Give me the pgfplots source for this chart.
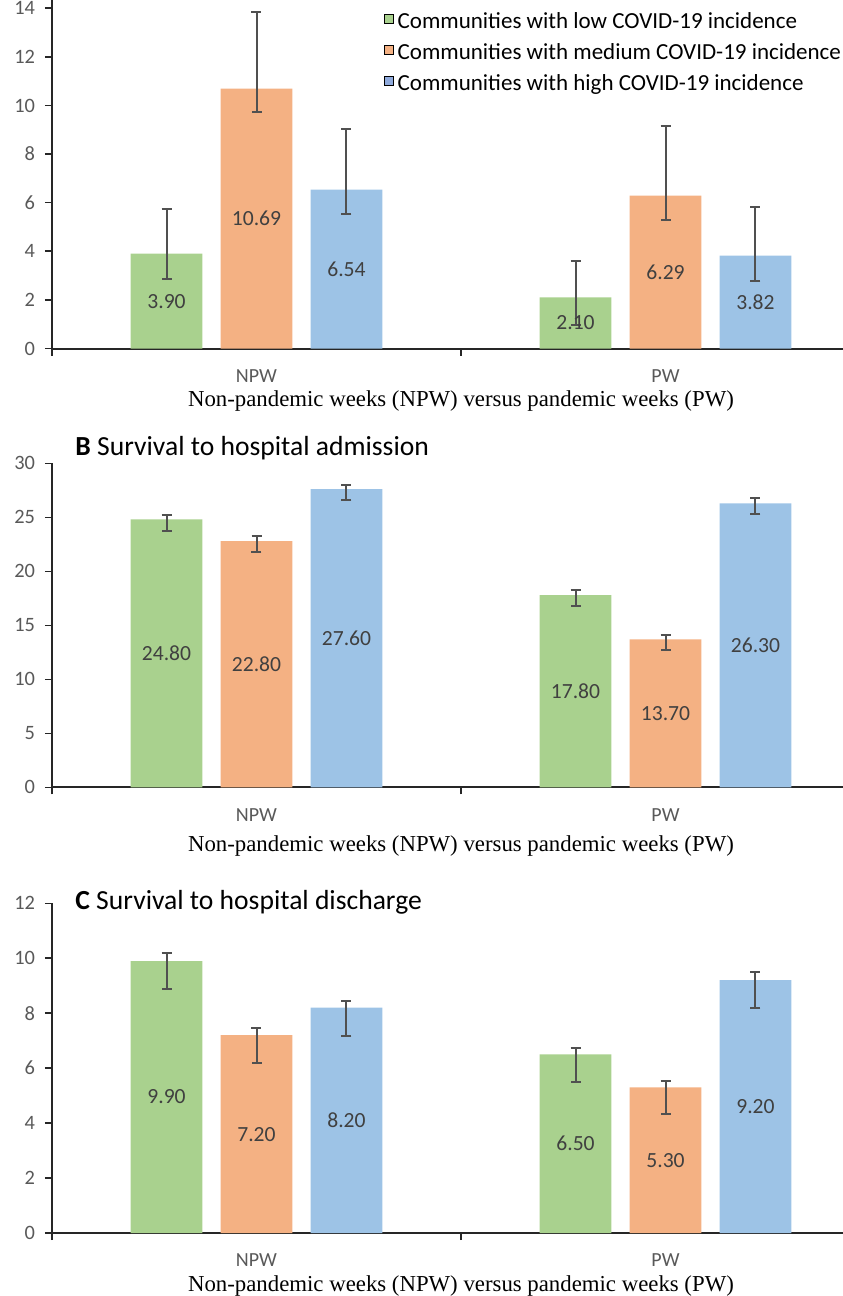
\documentclass[border=0pt]{standalone}
\usepackage{pgfplots}
\usepackage{pgfplotstable}
\pgfplotsset{compat=1.18}
\usepackage{fontspec}
\setmainfont{Carlito}
\newfontfamily\timesf{Liberation Serif}
\definecolor{cg}{HTML}{A9D18E}
\definecolor{co}{HTML}{F4B183}
\definecolor{cb}{HTML}{9DC3E6}
\definecolor{cbl}{HTML}{8FAADC}
\definecolor{tk}{HTML}{595959}
\definecolor{eb}{HTML}{505050}
\definecolor{lab}{HTML}{404040}

% panel A
\pgfplotstableread{
x y ep em
-0.22 3.90 1.84 1.03
0.78 2.10 1.51 1.13
}\Alow
\pgfplotstableread{
x y ep em
0 10.69 3.16 0.97
1 6.29 2.88 1.00
}\Amed
\pgfplotstableread{
x y ep em
0.22 6.54 2.49 0.99
1.22 3.82 1.99 1.03
}\Ahigh
% panel B
\pgfplotstableread{
x y ep em
-0.22 24.80 0.44 1.04
0.78 17.80 0.44 1.01
}\Blow
\pgfplotstableread{
x y ep em
0 22.80 0.44 1.01
1 13.70 0.43 1.01
}\Bmed
\pgfplotstableread{
x y ep em
0.22 27.60 0.42 1.03
1.22 26.30 0.46 0.99
}\Bhigh
% panel C
\pgfplotstableread{
x y ep em
-0.22 9.90 0.29 1.02
0.78 6.50 0.24 1.02
}\Clow
\pgfplotstableread{
x y ep em
0 7.20 0.25 1.03
1 5.30 0.22 0.97
}\Cmed
\pgfplotstableread{
x y ep em
0.22 8.20 0.25 1.02
1.22 9.20 0.29 1.02
}\Chigh

\pgfplotsset{
  panel/.style={
    scale only axis, width=409pt, xmin=-0.5, xmax=1.5, ymin=0,
    axis lines*=left, clip=false,
    axis line style={black!85, line width=0.8pt},
    x axis line style={line width=1pt},
    tick align=outside, major tick length=3.5pt,
    tick style={black!85, line width=0.8pt},
    xtick={-0.5,0.5,1.5}, xticklabels={{},{},{}},
    extra x ticks={0,1}, extra x tick labels={NPW,PW},
    extra x tick style={major tick length=0pt},
    xticklabel style={font=\fontsize{10}{12}\selectfont, color=tk, yshift=-7pt},
    yticklabel style={font=\fontsize{10.2}{12}\selectfont, color=tk, xshift=-1.5pt},
    /pgf/number format/assume math mode=true,
    xlabel={Non-pandemic weeks (NPW) versus pandemic weeks (PW)},
    xlabel style={font=\timesf\fontsize{11.4}{13}\selectfont},
  },
  bars/.style={ybar, bar width=0.175, bar shift=0pt, draw=none, fill=#1,
    error bars/y dir=both, error bars/y explicit,
    error bars/error bar style={line width=1pt, color=eb},
    error bars/error mark options={rotate=90, mark size=2.5pt, line width=1pt, color=eb}},
  vals/.style={draw=none, mark=none, nodes near coords={\pgfmathprintnumber[fixed,fixed zerofill,precision=2]{\pgfplotspointmeta}},
    point meta=explicit,
    every node near coord/.style={anchor=center, font=\fontsize{10.8}{12}\selectfont, color=lab}},
}

\begin{document}
\begin{tikzpicture}
% Panel A
\begin{axis}[panel, at={(26pt,-174.25pt)}, anchor=south west, height=174.25pt, ymax=14.34,
  ytick={0,2,...,14}, xlabel style={yshift=6pt},
  legend style={at={(0.405,0.966)}, anchor=north west, draw=none, fill=none,
    font=\fontsize{11.5}{13}\selectfont, inner sep=0pt,
    nodes={inner sep=0pt, text height=8pt, text depth=2.5pt},
    row sep=5pt, /tikz/column sep=2pt},
  legend cell align=left,
  legend image code/.code={\fill[#1] (0pt,-0.3pt) rectangle (4.6pt,4.3pt);},
]
\addplot[forget plot, bars=cg] table[x=x, y=y, y error plus=ep, y error minus=em] {\Alow};
\addplot[forget plot, bars=co] table[x=x, y=y, y error plus=ep, y error minus=em] {\Amed};
\addplot[forget plot, bars=cb] table[x=x, y=y, y error plus=ep, y error minus=em] {\Ahigh};
\addplot[forget plot, vals] table[x=x, y expr=\thisrow{y}/2, meta=y] {\Alow};
\addplot[forget plot, vals] table[x=x, y expr=\thisrow{y}/2, meta=y] {\Amed};
\addplot[forget plot, vals] table[x=x, y expr=\thisrow{y}/2, meta=y] {\Ahigh};
\addlegendimage{fill=cg}
\addlegendentry{Communities with low COVID-19 incidence}
\addlegendimage{fill=co}
\addlegendentry{Communities with medium COVID-19 incidence}
\addlegendimage{fill=cbl}
\addlegendentry{Communities with high COVID-19 incidence}
\end{axis}
% Panel B
\begin{axis}[panel, at={(26pt,-393.65pt)}, anchor=south west, height=162pt, ymax=30,
  ytick={0,5,...,30}, xlabel style={yshift=3pt}]
\addplot[bars=cg] table[x=x, y=y, y error plus=ep, y error minus=em] {\Blow};
\addplot[bars=co] table[x=x, y=y, y error plus=ep, y error minus=em] {\Bmed};
\addplot[bars=cb] table[x=x, y=y, y error plus=ep, y error minus=em] {\Bhigh};
\addplot[vals] table[x=x, y expr=\thisrow{y}/2, meta=y] {\Blow};
\addplot[vals] table[x=x, y expr=\thisrow{y}/2, meta=y] {\Bmed};
\addplot[vals] table[x=x, y expr=\thisrow{y}/2, meta=y] {\Bhigh};
\end{axis}
% Panel C
\begin{axis}[panel, at={(26pt,-616.5pt)}, anchor=south west, height=164.85pt, ymax=12,
  ytick={0,2,...,12}, xlabel style={yshift=6pt}]
\addplot[bars=cg] table[x=x, y=y, y error plus=ep, y error minus=em] {\Clow};
\addplot[bars=co] table[x=x, y=y, y error plus=ep, y error minus=em] {\Cmed};
\addplot[bars=cb] table[x=x, y=y, y error plus=ep, y error minus=em] {\Chigh};
\addplot[vals] table[x=x, y expr=\thisrow{y}/2, meta=y] {\Clow};
\addplot[vals] table[x=x, y expr=\thisrow{y}/2, meta=y] {\Cmed};
\addplot[vals] table[x=x, y expr=\thisrow{y}/2, meta=y] {\Chigh};
\end{axis}
\node[anchor=west, inner sep=0pt, font=\fontsize{13.8}{16}\selectfont] at (37.5pt,-224pt) {\textbf{B} Survival to hospital admission};
\node[anchor=west, inner sep=0pt, font=\fontsize{13.8}{16}\selectfont] at (37.5pt,-451pt) {\textbf{C} Survival to hospital discharge};
\pgfresetboundingbox
\path[use as bounding box] (0pt,0pt) rectangle (421pt,-648pt);
\end{tikzpicture}
\end{document}
